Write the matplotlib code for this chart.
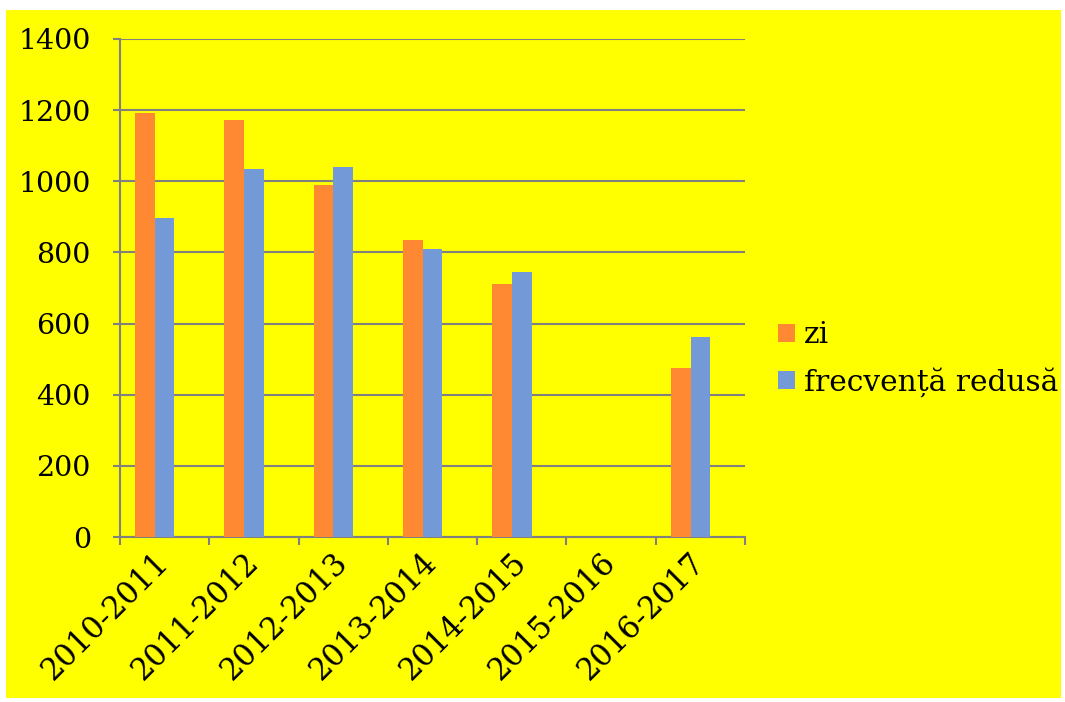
import matplotlib
matplotlib.use('Agg')
import matplotlib.pyplot as plt
import numpy as np
from matplotlib.patches import Rectangle, Patch

plt.rcParams['font.family'] = ['DejaVu Serif']

# data
categories = ['2010-2011', '2011-2012', '2012-2013', '2013-2014',
              '2014-2015', '2015-2016', '2016-2017']
zi = [1192, 1172, 990, 835, 712, 0, 476]
frecventa_redusa = [897, 1035, 1040, 810, 744, 0, 562]
series_names = ['zi', 'frecvență redusă']
yticks = [0, 200, 400, 600, 800, 1000, 1200, 1400]

orange = '#FF8833'
blue = '#7399D6'
grid_gray = '#808080'

fig = plt.figure(figsize=(10.65, 7.02), dpi=100, facecolor='white')
# yellow slide background with thin white border
fig.patches.append(Rectangle((6 / 1065, 1 - 698 / 702), 1055 / 1065, 688 / 702,
                             transform=fig.transFigure, facecolor='#FFFF00',
                             edgecolor='none', zorder=-10))

ax = fig.add_axes([120 / 1065, 1 - 537 / 702, 625 / 1065, 498 / 702])
ax.set_facecolor('none')

x = np.arange(len(categories))
w = 0.22
ax.bar(x - w, zi, width=w, align='center', color=orange, zorder=3, label=series_names[0])
ax.bar(x, frecventa_redusa, width=w, align='center', color=blue, zorder=3, label=series_names[1])

ax.set_xlim(-0.5, len(categories) - 0.5)
ax.set_ylim(0, 1400)
ax.set_yticks(yticks)
ax.set_yticklabels([str(v) for v in yticks], fontsize=20.5)
ax.yaxis.grid(True, color=grid_gray, linewidth=1.5, zorder=0)

# tick marks on category boundaries, labels at centers
ax.set_xticks(np.arange(len(categories) + 1) - 0.5)
ax.set_xticklabels([])
ax.set_xticks(x, minor=True)
ax.set_xticklabels(categories, minor=True, fontsize=22, rotation=45,
                   ha='right', va='center', rotation_mode='anchor')
ax.tick_params(axis='x', which='minor', length=0, pad=15)
ax.tick_params(axis='x', which='major', length=6, width=1.5, color=grid_gray)
ax.tick_params(axis='y', length=5, width=1.5, color=grid_gray, pad=16)

for s in ['top', 'right']:
    ax.spines[s].set_visible(False)
for s in ['left', 'bottom']:
    ax.spines[s].set_color(grid_gray)
    ax.spines[s].set_linewidth(1.5)

handles = [Patch(facecolor=orange), Patch(facecolor=blue)]
fig.legend(handles, series_names, loc='center left',
           bbox_to_anchor=(778 / 1065, 1 - 359 / 702), frameon=False,
           fontsize=21.3, handlelength=0.58, handleheight=0.58,
           handletextpad=0.3, labelspacing=0.6, borderpad=0, borderaxespad=0)

fig.savefig('out.png', dpi=100, facecolor='white')
